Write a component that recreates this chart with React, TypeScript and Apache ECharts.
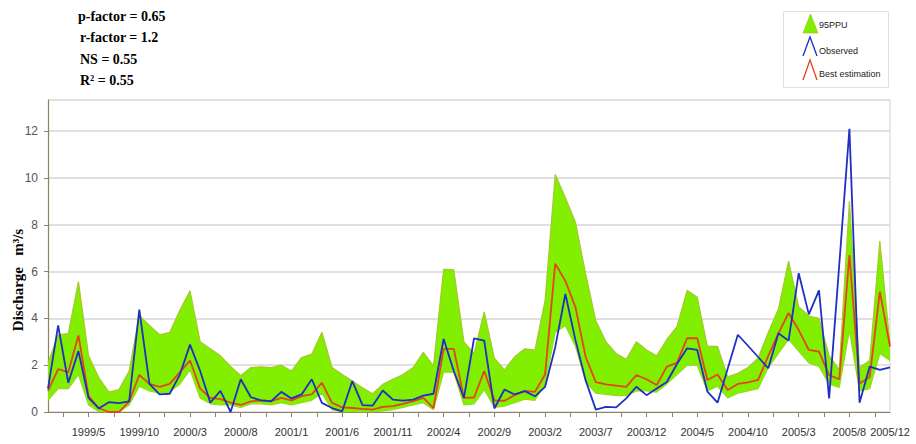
import React, { useEffect, useRef } from 'react';
import * as echarts from 'echarts';

const years = [1999, 2000, 2001, 2002, 2003, 2004, 2005];
const monthNums = [1, 2, 3, 4, 5, 6, 7, 8, 9, 10, 11, 12];
const categories = years.flatMap((y) => monthNums.map((m) => `${y}/${m}`));

const shownLabels = [
  '1999/5', '1999/10', '2000/3', '2000/8', '2001/1', '2001/6', '2001/11', '2002/4', '2002/9',
  '2003/2', '2003/7', '2003/12', '2004/5', '2004/10', '2005/3', '2005/8', '2005/12',
];

const observed = [
  1.0, 3.7, 1.25, 2.6, 0.6, 0.15, 0.42, 0.38, 0.45, 4.37, 1.2, 0.75,
  0.78, 1.6, 2.88, 1.75, 0.4, 0.9, 0.0, 1.4, 0.63, 0.5, 0.46, 0.86,
  0.58, 0.75, 1.4, 0.39, 0.17, 0.03, 1.32, 0.29, 0.27, 0.92, 0.53, 0.49,
  0.53, 0.7, 0.78, 3.12, 1.75, 0.6, 3.15, 3.05, 0.15, 0.96, 0.75, 0.89,
  0.67, 1.07, 2.77, 5.04, 3.06, 1.35, 0.1, 0.22, 0.2, 0.58, 1.08, 0.72,
  1.0, 1.28, 2.05, 2.72, 2.65, 0.87, 0.4, 1.85, 3.3, 2.83, 2.35, 1.87,
  3.36, 3.05, 5.93, 4.17, 5.2, 0.58, 6.3, 12.1, 0.4, 1.94, 1.8, 1.91,
];

const bestEstimation = [
  0.9, 1.83, 1.7, 3.27, 0.68, 0.17, 0.0, 0.0, 0.45, 1.58, 1.2, 1.07,
  1.2, 1.7, 2.2, 1.0, 0.6, 0.55, 0.4, 0.3, 0.45, 0.5, 0.46, 0.6,
  0.5, 0.68, 0.75, 1.25, 0.39, 0.2, 0.17, 0.13, 0.1, 0.22, 0.25, 0.35,
  0.46, 0.6, 0.17, 2.7, 2.7, 0.6, 0.62, 1.75, 0.5, 0.48, 0.72, 0.9,
  0.86, 1.6, 6.34, 5.6, 4.47, 2.35, 1.28, 1.18, 1.13, 1.07, 1.58, 1.4,
  1.15, 1.94, 2.1, 3.15, 3.15, 1.37, 1.6, 0.94, 1.2, 1.27, 1.37, 2.4,
  3.36, 4.23, 3.5, 2.65, 2.58, 1.58, 1.4, 6.7, 1.22, 1.5, 5.14, 2.8,
];

const ppuLower = [
  0.5, 1.0, 1.0, 1.6, 0.3, 0.02, 0.0, 0.0, 0.3, 1.1, 0.9, 0.8,
  0.85, 1.2, 1.8, 0.6, 0.35, 0.3, 0.3, 0.2, 0.35, 0.35, 0.3, 0.4,
  0.3, 0.4, 0.5, 0.8, 0.1, 0.0, 0.0, 0.0, 0.0, 0.05, 0.1, 0.2,
  0.3, 0.4, 0.1, 1.7, 1.7, 0.3, 0.35, 0.95, 0.2, 0.25, 0.4, 0.55,
  0.5, 1.2, 3.4, 3.7, 2.8, 1.3, 0.8, 0.75, 0.7, 0.7, 0.9, 0.9,
  0.85, 1.2, 1.6, 2.0, 2.0, 0.9, 1.1, 0.6, 0.8, 0.9, 1.0, 1.9,
  2.5, 3.1, 2.6, 2.1, 1.95, 1.2, 1.05, 3.5, 0.9, 1.0, 2.5, 2.2,
];

const ppuUpper = [
  2.1, 3.3, 3.35, 5.57, 2.4, 1.47, 0.85, 0.96, 1.75, 4.13, 3.7, 3.3,
  3.4, 4.35, 5.18, 3.0, 2.7, 2.4, 1.95, 1.55, 1.9, 1.93, 1.9, 2.0,
  1.75, 2.33, 2.47, 3.41, 1.9, 1.6, 1.32, 1.04, 0.78, 1.18, 1.4, 1.6,
  1.9, 2.55, 1.97, 6.1, 6.07, 3.0, 2.5, 4.28, 2.3, 1.8, 2.36, 2.7,
  2.64, 4.77, 10.15, 9.15, 8.1, 5.9, 3.9, 3.0, 2.5, 2.25, 3.0, 2.65,
  2.4, 3.1, 3.65, 5.2, 4.9, 2.8, 2.8, 1.5, 1.65, 1.9, 2.3, 3.4,
  4.4, 6.45, 4.5, 4.1, 4.0, 2.4, 1.8, 9.0, 1.9, 2.2, 7.3, 2.9,
];

const statsLines = ['p-factor = 0.65', 'r-factor = 1.2', 'NS = 0.55', 'R\u00b2 = 0.55'];
const legendNames = ['95PPU', 'Observed', 'Best estimation'];
const yAxisTitle = 'Discharge   m\u00b3/s';

const GREEN = '#82ee00';
const GREEN_EDGE = '#a6c82a';
const BLUE = '#1f2fc4';
const RED = '#e5441a';

// minor x ticks every 2.5 months, aligned with the labelled months
const tickPositions: number[] = [];
for (let t = 1.5; t < categories.length; t += 2.5) tickPositions.push(t);

export default function App() {
  const ref = useRef<HTMLDivElement>(null);

  useEffect(() => {
    if (!ref.current) return;
    const chart = echarts.init(ref.current, null, { renderer: 'svg' });
    const bandWidth = ppuUpper.map((u, i) => +(u - ppuLower[i]).toFixed(3));
    const serif = '"Liberation Serif", "Times New Roman", serif';
    const sans = '"Liberation Sans", Arial, sans-serif';

    const statsGraphics = statsLines.map((t, i) => ({
      type: 'text',
      x: i === 0 ? 78 : 80,
      y: 16 + i * 21.5,
      style: {
        text: t,
        font: `bold 14px ${serif}`,
        fill: '#000',
        textAlign: 'left',
        textVerticalAlign: 'middle',
      },
    }));

    const legendGraphics: any[] = [
      {
        type: 'rect',
        shape: { x: 783.5, y: 11.5, width: 105, height: 76 },
        style: { fill: '#fff', stroke: '#e6dede', lineWidth: 1 },
      },
      {
        type: 'polygon',
        shape: { points: [[803, 33], [810.5, 14], [818, 33]] },
        style: { fill: GREEN, stroke: GREEN_EDGE, lineWidth: 0.8 },
      },
      {
        type: 'polyline',
        shape: { points: [[803, 56], [810, 37], [817, 56]] },
        style: { stroke: BLUE, lineWidth: 1.3, fill: 'none' },
      },
      {
        type: 'polyline',
        shape: { points: [[803, 80], [810, 60], [817, 80]] },
        style: { stroke: RED, lineWidth: 1.3, fill: 'none' },
      },
      ...legendNames.map((n, i) => ({
        type: 'text',
        x: 819,
        y: [25, 51, 74][i],
        style: {
          text: n,
          font: `9px ${sans}`,
          fill: '#222',
          textAlign: 'left',
          textVerticalAlign: 'middle',
        },
      })),
    ];

    chart.setOption({
      animation: false,
      backgroundColor: '#fff',
      grid: { left: 48, right: 26, top: 100, bottom: 32, containLabel: false },
      xAxis: [
        {
          type: 'category',
          data: categories,
          boundaryGap: false,
          axisLine: { lineStyle: { color: '#8c8266', width: 1.2 } },
          axisTick: { show: false },
          axisLabel: {
            interval: (_i: number, v: string) => shownLabels.includes(v),
            color: '#333',
            fontSize: 11,
            fontFamily: sans,
            margin: 14,
          },
          splitLine: { show: false },
        },
        {
          type: 'value',
          position: 'bottom',
          min: 0,
          max: categories.length - 1,
          axisLine: { show: false },
          axisLabel: { show: false },
          splitLine: { show: false },
          axisTick: {
            show: true,
            customValues: tickPositions,
            length: 5,
            lineStyle: { color: '#8c8266' },
          },
        },
      ],
      yAxis: {
        type: 'value',
        min: 0,
        max: 13.33,
        interval: 2,
        offset: 4,
        axisLine: { show: true, lineStyle: { color: '#8c8266', width: 1.2 } },
        axisTick: { show: true, length: 4, lineStyle: { color: '#8c8266' } },
        axisLabel: {
          showMaxLabel: false,
          color: '#555',
          fontSize: 12,
          fontFamily: sans,
          margin: 6,
        },
        splitLine: { show: true, lineStyle: { color: '#d6d6d6', width: 1.5 } },
      },
      graphic: [
        {
          type: 'line',
          shape: { x1: 890, y1: 100, x2: 890, y2: 412 },
          style: { stroke: '#cfcfcf', lineWidth: 1 },
        },
        {
          type: 'text',
          x: 18,
          y: 280,
          rotation: Math.PI / 2,
          style: {
            text: yAxisTitle,
            font: `bold 15px ${serif}`,
            fill: '#000',
            textAlign: 'center',
            textVerticalAlign: 'middle',
          },
        },
        ...statsGraphics,
        ...legendGraphics,
      ],
      series: [
        {
          name: '95PPU lower',
          type: 'line',
          data: ppuLower,
          stack: 'ppu',
          symbol: 'none',
          silent: true,
          lineStyle: { color: GREEN_EDGE, width: 1.2 },
          z: 1,
        },
        {
          name: '95PPU',
          type: 'line',
          data: bandWidth,
          stack: 'ppu',
          symbol: 'none',
          silent: true,
          lineStyle: { color: GREEN_EDGE, width: 1.2 },
          areaStyle: { color: GREEN, opacity: 1 },
          z: 2,
        },
        {
          name: 'Best estimation',
          type: 'line',
          data: bestEstimation,
          symbol: 'none',
          lineStyle: { color: RED, width: 1.8 },
          z: 3,
        },
        {
          name: 'Observed',
          type: 'line',
          data: observed,
          symbol: 'none',
          lineStyle: { color: BLUE, width: 1.8 },
          z: 4,
        },
      ],
    });

    return () => chart.dispose();
  }, []);

  return (
    <div
      ref={ref}
      style={{ position: 'fixed', left: 0, top: 0, width: 916, height: 444, background: '#fff' }}
    />
  );
}
